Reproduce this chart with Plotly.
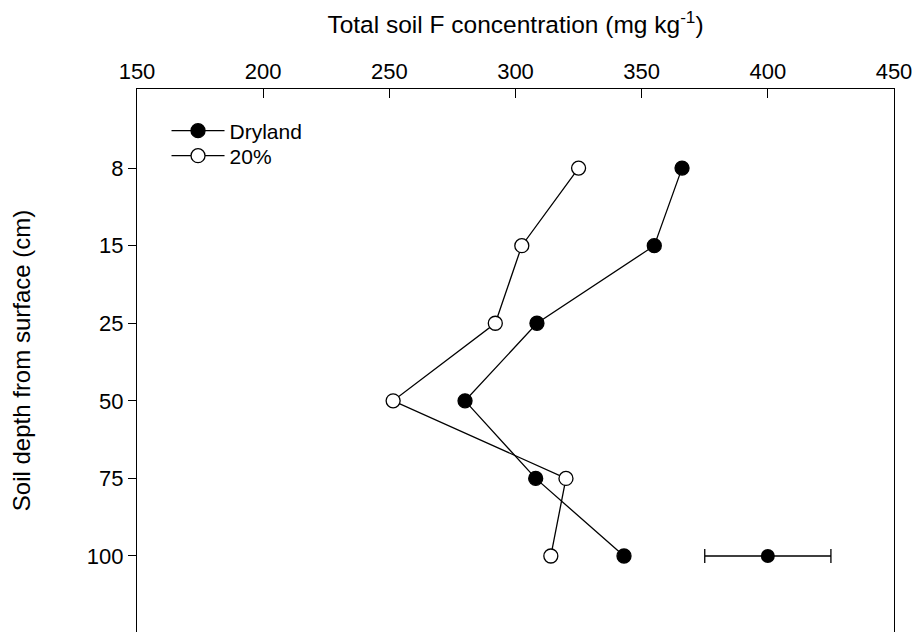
import plotly.graph_objects as go

depths = ["8", "15", "25", "50", "75", "100"]
dryland = [366, 355, 308.5, 280, 308, 343]
pct20 = [325, 302.5, 292, 251.5, 320, 314]
se_depth = ["100"]
se_x = [400]
se_err = [25]

font = "Liberation Sans, Arial, sans-serif"
fig = go.Figure()
fig.add_trace(go.Scatter(
    x=dryland, y=depths, name="Dryland", mode="lines+markers", legend="legend",
    line=dict(color="black", width=1.3),
    marker=dict(symbol="circle", size=14, color="black", line=dict(color="black", width=1.3)),
))
fig.add_trace(go.Scatter(
    x=pct20, y=depths, name="20%", mode="lines+markers", legend="legend2",
    line=dict(color="black", width=1.3),
    marker=dict(symbol="circle", size=14, color="white", line=dict(color="black", width=1.3)),
))
fig.add_trace(go.Scatter(
    x=se_x, y=se_depth, mode="markers", showlegend=False,
    marker=dict(symbol="circle", size=14, color="black"),
    error_x=dict(type="data", array=se_err, color="black", thickness=1.3, width=7),
))

leg_common = dict(xanchor="left", yanchor="middle", bgcolor="rgba(0,0,0,0)",
                  font=dict(size=21), itemwidth=53)
fig.update_layout(
    width=913, height=632,
    margin=dict(l=137, r=19, t=89, b=0),
    paper_bgcolor="white", plot_bgcolor="white",
    font=dict(family=font, size=22, color="black"),
    legend=dict(x=0.039, y=1 - 42 / 543, **leg_common),
    legend2=dict(x=0.039, y=1 - 67 / 543, **leg_common),
    xaxis=dict(
        side="top", range=[150, 450], tickvals=[150, 200, 250, 300, 350, 400, 450],
        ticks="inside", ticklen=9, tickwidth=1.3, tickcolor="black",
        showline=True, linecolor="black", linewidth=1.3, mirror=False,
        showgrid=False, zeroline=False, tickfont=dict(size=22),
        title=dict(text="Total soil F concentration (mg kg<sup>-1</sup>)",
                   font=dict(size=24.5), standoff=18),
    ),
    yaxis=dict(
        type="category", categoryorder="array", categoryarray=depths,
        range=[5.98, -1.02],
        ticks="outside", ticklen=8, tickwidth=1.3, tickcolor="black",
        showline=True, linecolor="black", linewidth=1.3, mirror=True,
        showgrid=False, zeroline=False, tickfont=dict(size=22),
        title=dict(text="Soil depth from surface (cm)", font=dict(size=24), standoff=49),
    ),
)
fig.write_html("out.html", config={"displayModeBar": False})
with open("out.html", encoding="utf-8") as f:
    html = f.read()
html = html.replace("<head>", "<head><style>html,body{margin:0;padding:0;overflow:hidden}</style>", 1)
with open("out.html", "w", encoding="utf-8") as f:
    f.write(html)
